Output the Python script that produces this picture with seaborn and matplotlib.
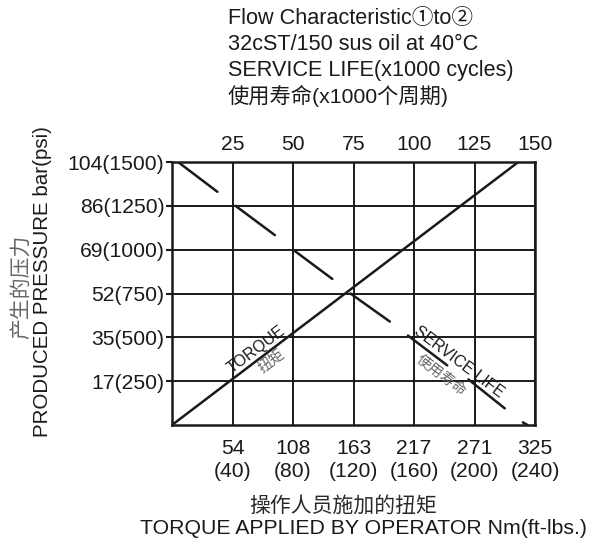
import matplotlib
matplotlib.use("Agg")
import matplotlib.pyplot as plt
import seaborn as sns
import pandas as pd

# ---- data (x in ft-lbs, y in psi) ----
torque_x = [0, 229]
torque_y = [0, 1500]

# service-life dashes: start/end points
sl_x0 = [4, 42, 80, 118, 156, 196, 232]
sl_y0 = [1500, 1250, 1000, 750, 510, 260, 15]
sl_x1 = [30, 68, 106, 144, 182, 220, 235]
sl_y1 = [1330, 1083, 833, 590, 340, 95, 0]

x_ticks = [40, 80, 120, 160, 200, 240]
x_bottom_labels = ["54\n(40)", "108\n(80)", "163\n(120)", "217\n(160)", "271\n(200)", "325\n(240)"]
x_top_labels = ["25", "50", "75", "100", "125", "150"]
y_ticks = [250, 500, 750, 1000, 1250, 1500]
y_labels = ["17(250)", "35(500)", "52(750)", "69(1000)", "86(1250)", "104(1500)"]

title_lines = ["Flow Characteristic①to②", "32cST/150 sus oil at 40°C",
               "SERVICE LIFE(x1000 cycles)", "使用寿命(x1000个周期)"]

sns.set_theme(style="white")
FAM = ["Liberation Sans", "Noto Sans CJK SC", "DejaVu Sans"]
CJK = ["Noto Sans CJK SC", "Liberation Sans", "DejaVu Sans"]
plt.rcParams["font.family"] = FAM

FS = 15.2
INK = "#1a1a1a"
W, H = 589, 543
fig = plt.figure(figsize=(W / 100, H / 100), dpi=100)
L, R, T, B = 172, 535, 162, 425
ax = fig.add_axes([L / W, 1 - B / H, (R - L) / W, (B - T) / H])

df_t = pd.DataFrame({"x": torque_x, "y": torque_y})
sns.lineplot(data=df_t, x="x", y="y", ax=ax, color=INK, lw=1.8,
             estimator=None, sort=False)

rows = []
for i, (a, b, c, d) in enumerate(zip(sl_x0, sl_y0, sl_x1, sl_y1)):
    rows.append({"seg": i, "x": a, "y": b})
    rows.append({"seg": i, "x": c, "y": d})
df_s = pd.DataFrame(rows)
sns.lineplot(data=df_s, x="x", y="y", units="seg", ax=ax, color=INK,
             lw=1.8, estimator=None, sort=False)

ax.set_xlim(0, 240)
ax.set_ylim(0, 1500)
ax.set_xticks(x_ticks)
ax.set_xticklabels(x_bottom_labels, fontsize=FS, color=INK, linespacing=1.3)
ax.set_yticks(y_ticks)
ax.set_yticklabels(y_labels, fontsize=FS, color=INK)
ax.tick_params(axis="x", length=0, pad=10)
ax.tick_params(axis="y", length=4, width=1.5, color=INK, pad=1.5, direction="out", left=True)
ax.grid(True, color=INK, lw=1.4)
ax.set_xlabel("")
ax.set_ylabel("")
for s in ax.spines.values():
    s.set_visible(True)
    s.set_color(INK)
    s.set_linewidth(1.8)

top = ax.twiny()
top.set_xlim(0, 240)
top.set_xticks(x_ticks)
top.set_xticklabels(x_top_labels, fontsize=FS, color=INK)
top.tick_params(axis="x", length=0, pad=6)
for s in top.spines.values():
    s.set_visible(False)

# in-plot labels
ax.text(55.5, 428, "TORQUE", rotation=37, ha="center", va="center",
        fontsize=11.5, color=INK, rotation_mode="anchor")
ax.text(66, 359, "扭矩", rotation=37, ha="center", va="center",
        fontsize=10.5, color="#666666", family=CJK, rotation_mode="anchor")
ax.text(190, 359, "SERVICE LIFE", rotation=-37, ha="center", va="center",
        fontsize=11.5, color=INK, rotation_mode="anchor")
ax.text(178, 285, "使用寿命", rotation=-37, ha="center", va="center",
        fontsize=10.5, color="#666666", family=CJK, rotation_mode="anchor")

# titles
for i, t in enumerate(title_lines):
    fs = 15.3 if i == 3 else 15.6
    fig.text(228 / W, 1 - (19 + 25.7 * i) / H, t, ha="left", va="center",
             fontsize=fs, color=INK, family=FAM)

fig.text(343 / W, 1 - 506 / H, "操作人员施加的扭矩", ha="center", va="center",
         fontsize=15, color="#2a2a2a", family=CJK)
fig.text(364 / W, 1 - 528 / H, "TORQUE APPLIED BY OPERATOR Nm(ft-lbs.)",
         ha="center", va="center", fontsize=15.3, color=INK)
fig.text(42 / W, 1 - 282 / H, "PRODUCED PRESSURE bar(psi)", rotation=90,
         ha="center", va="center", fontsize=14.8, color=INK)
fig.text(21 / W, 1 - 287 / H, "产生的压力", rotation=90, ha="center",
         va="center", fontsize=15, color="#666666", family=CJK)

fig.savefig("out.png", dpi=100)
